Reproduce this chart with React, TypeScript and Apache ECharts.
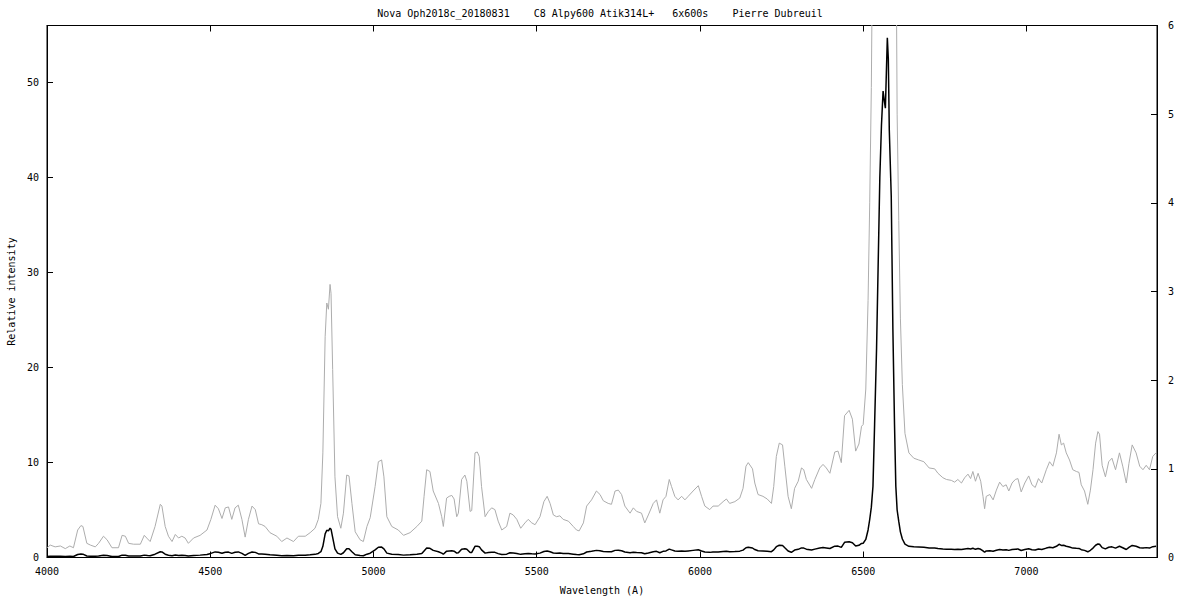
import React, { useEffect, useRef } from "react";
import * as echarts from "echarts";

const TITLE = "Nova Oph2018c_20180831    C8 Alpy600 Atik314L+   6x600s    Pierre Dubreuil";
const X_NAME = "Wavelength (A)";
const Y_NAME = "Relative intensity";

const X_TICKS = [4000, 4500, 5000, 5500, 6000, 6500, 7000];
const Y_LEFT_TICKS = [0, 10, 20, 30, 40, 50];
const Y_RIGHT_TICKS = [0, 1, 2, 3, 4, 5, 6];

// Wavelength (Angstrom)
const wavelengths = [
  4000, 4010, 4025, 4041, 4056, 4070, 4081, 4094, 4104, 4110, 4122, 4133, 4148, 4158, 4173, 4184,
  4199, 4219, 4230, 4240, 4250, 4265, 4286, 4298, 4308, 4316, 4331, 4347, 4352, 4362, 4372, 4383,
  4393, 4403, 4413, 4423, 4433, 4449, 4469, 4490, 4502, 4515, 4525, 4536, 4546, 4556, 4566, 4576,
  4586, 4597, 4607, 4617, 4628, 4638, 4648, 4658, 4668, 4683, 4704, 4719, 4735, 4755, 4770, 4791,
  4806, 4821, 4831, 4839, 4845, 4852, 4857, 4862, 4867, 4870, 4875, 4882, 4890, 4900, 4908, 4918,
  4925, 4934, 4944, 4959, 4969, 4980, 4990, 5005, 5015, 5025, 5032, 5041, 5056, 5076, 5092, 5112,
  5133, 5148, 5155, 5163, 5173, 5183, 5199, 5209, 5214, 5224, 5232, 5240, 5247, 5255, 5260, 5270,
  5280, 5286, 5296, 5301, 5311, 5318, 5324, 5331, 5342, 5352, 5362, 5372, 5382, 5393, 5408, 5418,
  5428, 5439, 5451, 5464, 5474, 5485, 5495, 5510, 5522, 5532, 5541, 5551, 5561, 5571, 5581, 5597,
  5612, 5622, 5630, 5643, 5653, 5668, 5683, 5694, 5704, 5719, 5729, 5740, 5750, 5760, 5770, 5786,
  5796, 5806, 5821, 5831, 5842, 5857, 5867, 5877, 5887, 5896, 5906, 5913, 5923, 5933, 5944, 5954,
  5964, 5979, 5995, 6005, 6015, 6030, 6040, 6056, 6071, 6081, 6091, 6107, 6122, 6132, 6141, 6148,
  6161, 6168, 6178, 6193, 6206, 6219, 6226, 6234, 6243, 6253, 6260, 6270, 6280, 6290, 6301, 6311,
  6318, 6326, 6342, 6352, 6367, 6377, 6387, 6398, 6413, 6423, 6433, 6443, 6457, 6467, 6477, 6487,
  6495, 6500, 6508, 6515, 6520, 6525, 6530, 6535, 6541, 6546, 6551, 6556, 6561, 6565, 6568, 6571,
  6574, 6577, 6580, 6586, 6591, 6596, 6600, 6604, 6609, 6614, 6620, 6628, 6640, 6655, 6670, 6686,
  6702, 6719, 6729, 6744, 6755, 6770, 6780, 6790, 6801, 6811, 6821, 6829, 6836, 6844, 6852, 6860,
  6867, 6872, 6877, 6888, 6898, 6908, 6918, 6928, 6938, 6946, 6956, 6966, 6974, 6984, 6995, 7007,
  7017, 7027, 7037, 7047, 7061, 7071, 7081, 7092, 7100, 7107, 7114, 7122, 7132, 7142, 7153, 7161,
  7168, 7178, 7188, 7196, 7204, 7212, 7219, 7224, 7232, 7242, 7252, 7262, 7273, 7285, 7295, 7306,
  7314, 7324, 7336, 7347, 7357, 7367, 7377, 7387, 7397,
];

// Relative intensity
const intensities = [
  0.11, 0.14, 0.12, 0.13, 0.10, 0.13, 0.11, 0.31, 0.36, 0.35, 0.16, 0.14, 0.12, 0.16, 0.24, 0.20,
  0.11, 0.11, 0.25, 0.24, 0.16, 0.15, 0.15, 0.25, 0.21, 0.18, 0.35, 0.60, 0.58, 0.35, 0.24, 0.18,
  0.26, 0.22, 0.24, 0.22, 0.16, 0.22, 0.25, 0.31, 0.43, 0.59, 0.55, 0.44, 0.56, 0.57, 0.43, 0.56,
  0.59, 0.43, 0.23, 0.43, 0.58, 0.54, 0.38, 0.37, 0.35, 0.28, 0.24, 0.18, 0.22, 0.18, 0.24, 0.24,
  0.28, 0.33, 0.43, 0.61, 1.18, 2.49, 2.87, 2.80, 3.08, 2.98, 2.12, 0.91, 0.46, 0.33, 0.50, 0.93,
  0.92, 0.61, 0.29, 0.20, 0.18, 0.35, 0.45, 0.80, 1.08, 1.10, 0.91, 0.46, 0.35, 0.31, 0.25, 0.28,
  0.35, 0.41, 0.69, 0.99, 0.97, 0.75, 0.61, 0.46, 0.35, 0.67, 0.69, 0.70, 0.66, 0.46, 0.50, 0.88,
  0.93, 0.86, 0.52, 0.53, 1.18, 1.19, 1.14, 0.80, 0.46, 0.52, 0.56, 0.54, 0.41, 0.31, 0.35, 0.50,
  0.48, 0.43, 0.33, 0.39, 0.43, 0.39, 0.37, 0.46, 0.63, 0.69, 0.61, 0.48, 0.46, 0.47, 0.43, 0.41,
  0.35, 0.31, 0.30, 0.39, 0.58, 0.65, 0.75, 0.71, 0.64, 0.61, 0.60, 0.75, 0.76, 0.71, 0.58, 0.50,
  0.56, 0.52, 0.50, 0.39, 0.48, 0.61, 0.65, 0.50, 0.65, 0.69, 0.88, 0.80, 0.69, 0.65, 0.69, 0.65,
  0.69, 0.75, 0.81, 0.69, 0.58, 0.54, 0.58, 0.58, 0.63, 0.66, 0.61, 0.63, 0.67, 0.78, 1.03, 1.07,
  1.00, 0.84, 0.71, 0.69, 0.66, 0.61, 0.80, 1.14, 1.29, 1.27, 1.03, 0.69, 0.55, 0.78, 0.86, 1.01,
  0.99, 0.88, 0.78, 0.88, 1.01, 1.05, 1.01, 0.95, 1.19, 1.20, 1.07, 1.60, 1.66, 1.56, 1.20, 1.28,
  1.48, 1.50, 1.90, 2.90, 4.0, 5.3, 7.5, 14, 22, 31, 40, 45.5, 49.1, 48.0, 47.3, 51,
  54.7, 52.5, 45, 38, 24, 14, 7.5, 5.0, 3.8, 2.7, 1.95, 1.40, 1.18, 1.12, 1.10, 1.08,
  1.01, 1.00, 0.95, 0.90, 0.88, 0.87, 0.85, 0.88, 0.84, 0.90, 0.94, 0.89, 0.97, 0.86, 0.95, 0.86,
  0.69, 0.55, 0.69, 0.71, 0.65, 0.76, 0.85, 0.80, 0.82, 0.75, 0.84, 0.88, 0.89, 0.74, 0.84, 0.92,
  0.82, 0.79, 0.89, 0.84, 0.99, 1.08, 1.03, 1.18, 1.39, 1.27, 1.29, 1.18, 1.10, 0.99, 0.97, 0.96,
  0.82, 0.75, 0.60, 0.76, 0.99, 1.29, 1.42, 1.39, 1.04, 0.91, 1.08, 1.12, 0.99, 1.18, 1.03, 0.84,
  1.06, 1.27, 1.18, 1.03, 0.99, 1.04, 0.99, 1.14, 1.18,
];

const FONT = "'DejaVu Sans Mono', monospace";

export default function App() {
  const ref = useRef<HTMLDivElement>(null);

  useEffect(() => {
    if (!ref.current) return;
    const chart = echarts.init(ref.current, undefined, { renderer: "svg" });
    const data = wavelengths.map((w, i) => [w, intensities[i]]);
    const xMin = X_TICKS[0];
    const xStep = X_TICKS[1] - X_TICKS[0];
    const yStep = Y_LEFT_TICKS[1] - Y_LEFT_TICKS[0];
    const labelStyle = { color: "#000", fontFamily: FONT, fontSize: 10 };

    chart.setOption({
      animation: false,
      backgroundColor: "#fff",
      title: {
        text: TITLE,
        left: "center",
        top: 8,
        padding: 0,
        textStyle: { ...labelStyle, fontWeight: "normal" },
      },
      grid: {
        left: 47,
        right: 43,
        top: 25.5,
        bottom: 42.5,
        containLabel: false,
        outerBoundsMode: "none",
        show: true,
        borderColor: "#000",
        borderWidth: 1,
        backgroundColor: "transparent",
      },
      xAxis: [
        {
          type: "value",
          min: xMin,
          max: 7400,
          interval: xStep,
          position: "bottom",
          name: X_NAME,
          nameLocation: "middle",
          nameGap: 28,
          nameTextStyle: labelStyle,
          axisLine: { show: true, onZero: false, lineStyle: { color: "#000", width: 1 } },
          axisTick: { show: true, inside: true, length: 6, lineStyle: { color: "#000" } },
          axisLabel: {
            ...labelStyle,
            margin: 9,
            formatter: (v: number) => (X_TICKS.includes(v) ? String(v) : ""),
          },
          splitLine: { show: false },
        },
        {
          type: "value",
          min: xMin,
          max: 7400,
          interval: xStep,
          position: "top",
          axisLine: { show: true, onZero: false, lineStyle: { color: "#000", width: 1 } },
          axisTick: { show: true, inside: true, length: 6, lineStyle: { color: "#000" } },
          axisLabel: { show: false },
          splitLine: { show: false },
        },
      ],
      yAxis: [
        {
          type: "value",
          min: 0,
          max: 56,
          interval: yStep,
          position: "left",
          name: Y_NAME,
          nameLocation: "middle",
          nameGap: 31,
          nameRotate: 90,
          nameTextStyle: labelStyle,
          axisLine: { show: true, onZero: false, lineStyle: { color: "#000", width: 1 } },
          axisTick: { show: true, inside: true, length: 6, lineStyle: { color: "#000" } },
          axisLabel: {
            ...labelStyle,
            margin: 8,
            formatter: (v: number) => (Y_LEFT_TICKS.includes(v) ? String(v) : ""),
          },
          splitLine: { show: false },
        },
        {
          type: "value",
          min: 0,
          max: 6,
          interval: 1,
          position: "right",
          axisLine: { show: true, onZero: false, lineStyle: { color: "#000", width: 1 } },
          axisTick: { show: true, inside: true, length: 6, lineStyle: { color: "#000" } },
          axisLabel: {
            ...labelStyle,
            margin: 11,
            formatter: (v: number) => (Y_RIGHT_TICKS.includes(v) ? String(v) : ""),
          },
          splitLine: { show: false },
        },
      ],
      series: [
        {
          name: "x10",
          type: "line",
          xAxisIndex: 0,
          yAxisIndex: 1,
          data,
          showSymbol: false,
          clip: true,
          lineStyle: { color: "#adadad", width: 1 },
          itemStyle: { color: "#adadad" },
          z: 2,
        },
        {
          name: "spectrum",
          type: "line",
          xAxisIndex: 0,
          yAxisIndex: 0,
          data,
          showSymbol: false,
          clip: true,
          lineStyle: { color: "#000", width: 1.5 },
          itemStyle: { color: "#000" },
          z: 3,
        },
      ],
    });

    return () => chart.dispose();
  }, []);

  return (
    <div
      ref={ref}
      style={{ position: "absolute", left: 0, top: 0, width: 1200, height: 600, background: "#fff" }}
    />
  );
}
